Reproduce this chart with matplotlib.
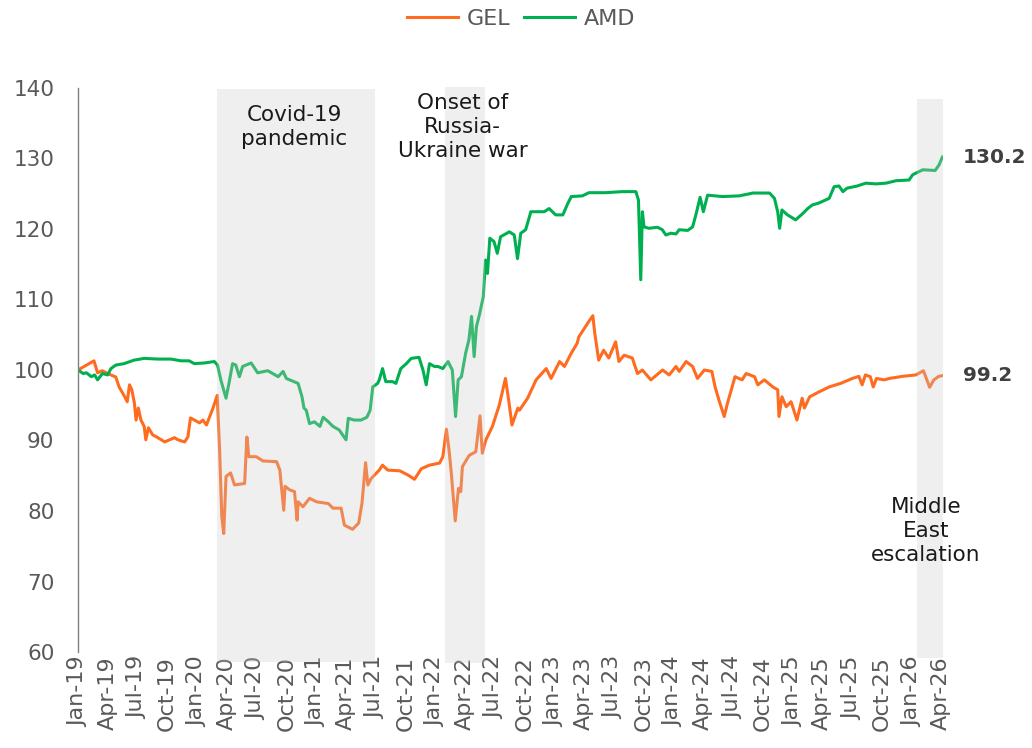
import numpy as np
import pandas as pd
import matplotlib
matplotlib.use("Agg")
import matplotlib.pyplot as plt
import matplotlib.dates as mdates

# GEL and AMD exchange-rate index (Jan-2019 = 100)
gel_dates = [
    "2019-01-01", "2019-02-19", "2019-03-02", "2019-03-16", "2019-04-12", "2019-04-27",
    "2019-05-07", "2019-05-22", "2019-06-01", "2019-06-08", "2019-06-15", "2019-06-23",
    "2019-06-28", "2019-07-05", "2019-07-13", "2019-07-23", "2019-07-28", "2019-08-05",
    "2019-08-18", "2019-09-03", "2019-09-24", "2019-10-24", "2019-11-03", "2019-11-24",
    "2019-12-04", "2019-12-12", "2019-12-24", "2020-01-09", "2020-01-19", "2020-01-30",
    "2020-02-09", "2020-02-19", "2020-03-03", "2020-03-10", "2020-03-17", "2020-03-23",
    "2020-03-30", "2020-04-13", "2020-04-25", "2020-05-26", "2020-06-02", "2020-06-08",
    "2020-07-01", "2020-07-21", "2020-09-01", "2020-09-11", "2020-09-23", "2020-09-27",
    "2020-10-11", "2020-10-26", "2020-11-03", "2020-11-06", "2020-11-21", "2020-12-11",
    "2021-01-02", "2021-02-07", "2021-02-21", "2021-03-18", "2021-03-28", "2021-04-22",
    "2021-05-11", "2021-05-21", "2021-06-01", "2021-06-08", "2021-06-18", "2021-07-13",
    "2021-07-23", "2021-08-08", "2021-09-14", "2021-10-09", "2021-10-29", "2021-11-19",
    "2021-12-14", "2022-01-14", "2022-01-24", "2022-02-04", "2022-02-12", "2022-02-19",
    "2022-03-03", "2022-03-13", "2022-03-20", "2022-03-25", "2022-04-15", "2022-05-05",
    "2022-05-18", "2022-05-25", "2022-06-05", "2022-06-25", "2022-07-16", "2022-08-04",
    "2022-08-14", "2022-08-24", "2022-09-11", "2022-09-16", "2022-10-11", "2022-11-06",
    "2022-12-07", "2022-12-22", "2023-01-17", "2023-02-01", "2023-02-22", "2023-03-12",
    "2023-03-17", "2023-04-17", "2023-04-29", "2023-05-05", "2023-05-17", "2023-06-01",
    "2023-06-17", "2023-07-08", "2023-07-18", "2023-08-03", "2023-08-28", "2023-09-13",
    "2023-09-28", "2023-10-24", "2023-11-29", "2023-12-19", "2024-01-09", "2024-01-19",
    "2024-02-09", "2024-02-29", "2024-03-15", "2024-04-05", "2024-04-28", "2024-05-08",
    "2024-05-20", "2024-06-05", "2024-06-15", "2024-06-25", "2024-07-08", "2024-07-30",
    "2024-08-11", "2024-09-06", "2024-09-16", "2024-10-06", "2024-11-01", "2024-11-16",
    "2024-11-20", "2024-11-29", "2024-12-12", "2024-12-27", "2025-01-14", "2025-01-30",
    "2025-02-06", "2025-02-22", "2025-03-23", "2025-04-23", "2025-05-28", "2025-07-03",
    "2025-07-23", "2025-08-02", "2025-08-12", "2025-08-27", "2025-09-05", "2025-09-15",
    "2025-10-09", "2025-10-24", "2025-12-04", "2026-01-14", "2026-02-06", "2026-02-25",
    "2026-03-10", "2026-03-25", "2026-04-05",
]
gel_values = [
    100.0, 101.3, 99.6, 99.9, 99.3, 99.0,
    97.6, 96.4, 95.5, 97.9, 97.2, 95.3,
    92.9, 94.6, 92.9, 92.0, 90.1, 91.8,
    90.8, 90.4, 89.8, 90.4, 90.1, 89.8,
    90.5, 93.2, 92.9, 92.5, 92.9, 92.2,
    93.4, 94.6, 96.4, 89.1, 79.2, 76.8,
    84.9, 85.4, 83.7, 83.9, 90.5, 87.7,
    87.7, 87.1, 87.0, 85.8, 80.1, 83.5,
    83.0, 82.75, 78.7, 81.3, 80.6, 81.8,
    81.3, 81.05, 80.4, 80.4, 78.0, 77.4,
    78.3, 81.1, 86.85, 83.7, 84.6, 85.8,
    86.5, 85.8, 85.7, 85.1, 84.5, 86.0,
    86.5, 86.8, 87.7, 91.6, 88.65, 85.35,
    78.6, 83.2, 82.75, 86.3, 87.9, 88.4,
    93.5, 88.2, 90.1, 92.0, 95.0, 98.8,
    95.7, 92.2, 94.6, 94.3, 96.0, 98.6,
    100.2, 98.8, 101.2, 100.5, 102.4, 103.8,
    104.7, 106.9, 107.7, 105.2, 101.4, 102.8,
    101.7, 104.0, 101.2, 102.1, 101.7, 99.5,
    100.0, 98.6, 100.0, 99.3, 100.5, 99.8,
    101.2, 100.5, 98.8, 100.0, 99.8, 97.6,
    95.7, 93.4, 95.3, 96.9, 99.05, 98.6,
    99.5, 99.05, 97.9, 98.6, 97.6, 97.2,
    93.4, 96.2, 94.8, 95.5, 92.9, 96.0,
    94.6, 96.2, 96.9, 97.6, 98.1, 98.8,
    99.1, 97.9, 99.3, 99.05, 97.6, 98.8,
    98.6, 98.8, 99.1, 99.3, 99.9, 97.55,
    98.6, 99.1, 99.2,
]

amd_dates = [
    "2019-01-01", "2019-01-17", "2019-01-27", "2019-02-11", "2019-02-21", "2019-03-02",
    "2019-03-17", "2019-04-02", "2019-04-12", "2019-04-27", "2019-05-22", "2019-06-22",
    "2019-07-23", "2019-09-03", "2019-10-13", "2019-11-13", "2019-12-08", "2019-12-24",
    "2020-01-24", "2020-02-23", "2020-03-04", "2020-03-14", "2020-03-30", "2020-04-09",
    "2020-04-19", "2020-04-29", "2020-05-10", "2020-05-20", "2020-06-15", "2020-07-05",
    "2020-08-05", "2020-09-06", "2020-09-21", "2020-10-01", "2020-11-06", "2020-11-18",
    "2020-11-24", "2020-12-01", "2020-12-11", "2020-12-26", "2021-01-12", "2021-01-22",
    "2021-02-07", "2021-02-21", "2021-03-12", "2021-04-02", "2021-04-09", "2021-04-27",
    "2021-05-18", "2021-06-05", "2021-06-15", "2021-06-23", "2021-07-08", "2021-07-13",
    "2021-07-23", "2021-08-02", "2021-08-23", "2021-09-02", "2021-09-17", "2021-10-04",
    "2021-10-19", "2021-11-12", "2021-11-24", "2021-12-04", "2021-12-14", "2021-12-29",
    "2022-01-09", "2022-01-24", "2022-02-09", "2022-02-22", "2022-03-04", "2022-03-12",
    "2022-03-22", "2022-04-04", "2022-04-14", "2022-04-22", "2022-04-30", "2022-05-07",
    "2022-05-17", "2022-05-28", "2022-06-04", "2022-06-10", "2022-06-17", "2022-06-30",
    "2022-07-10", "2022-07-20", "2022-08-16", "2022-08-31", "2022-09-10", "2022-09-20",
    "2022-10-05", "2022-10-21", "2022-12-01", "2022-12-16", "2023-01-05", "2023-01-27",
    "2023-02-11", "2023-02-22", "2023-03-28", "2023-04-17", "2023-06-07", "2023-07-28",
    "2023-09-08", "2023-09-16", "2023-09-23", "2023-09-28", "2023-10-03", "2023-10-18",
    "2023-11-13", "2023-11-28", "2023-12-09", "2023-12-24", "2024-01-09", "2024-01-19",
    "2024-02-14", "2024-02-29", "2024-03-10", "2024-03-23", "2024-04-02", "2024-04-15",
    "2024-05-31", "2024-07-21", "2024-09-01", "2024-10-22", "2024-11-06", "2024-11-16",
    "2024-11-22", "2024-11-29", "2024-12-16", "2025-01-10", "2025-02-01", "2025-02-16",
    "2025-03-02", "2025-03-23", "2025-04-23", "2025-05-08", "2025-05-23", "2025-06-04",
    "2025-06-17", "2025-07-18", "2025-08-13", "2025-09-13", "2025-10-14", "2025-11-14",
    "2025-12-24", "2026-01-04", "2026-02-04", "2026-03-14", "2026-03-26", "2026-04-05",
]
amd_values = [
    100.0, 99.5, 99.6, 99.05, 99.3, 98.6,
    99.5, 99.3, 100.2, 100.7, 100.9, 101.4,
    101.65, 101.55, 101.55, 101.3, 101.3, 100.9,
    101.0, 101.2, 100.7, 98.6, 96.0, 98.35,
    100.9, 100.7, 99.05, 100.5, 101.0, 99.6,
    99.9, 99.05, 99.8, 98.8, 98.1, 96.2,
    94.6, 94.3, 92.4, 92.65, 92.0, 93.3,
    92.65, 92.0, 91.5, 90.1, 93.15, 92.9,
    92.9, 93.3, 94.3, 97.6, 98.1, 98.6,
    100.2, 98.35, 98.35, 98.1, 100.2, 100.9,
    101.65, 101.8, 100.0, 97.9, 100.9, 100.5,
    100.5, 100.2, 101.2, 100.0, 93.4, 98.6,
    99.05, 102.4, 104.3, 107.6, 101.9, 106.15,
    108.0, 110.4, 115.6, 113.7, 118.7, 118.2,
    116.55, 118.9, 119.6, 119.15, 115.8, 119.4,
    119.9, 122.45, 122.45, 122.9, 122.0, 122.0,
    123.6, 124.6, 124.7, 125.15, 125.15, 125.3,
    125.3, 124.1, 112.8, 122.45, 120.3, 120.1,
    120.25, 119.9, 119.15, 119.4, 119.3, 119.9,
    119.8, 120.3, 122.0, 124.5, 122.45, 124.8,
    124.6, 124.7, 125.1, 125.1, 124.35, 122.45,
    120.1, 122.7, 122.0, 121.3, 122.2, 122.9,
    123.4, 123.7, 124.35, 126.0, 126.1, 125.3,
    125.8, 126.1, 126.5, 126.4, 126.5, 126.85,
    126.95, 127.7, 128.4, 128.3, 129.1, 130.2,
]

# shaded event periods
event_starts = ["2020-03-01", "2022-02-01", "2026-01-18"]
event_ends = ["2021-07-01", "2022-06-01", "2026-04-07"]
event_labels = ["Covid-19\npandemic", "Onset of\nRussia-\nUkraine war", "Middle\nEast\nescalation"]
event_label_x = ["2020-10-26", "2022-03-25", "2026-02-14"]
event_label_y = [134.5, 134.4, 77.2]
band_bottom = [58.6, 58.4, 59.1]
band_top = [139.8, 140.2, 138.5]

GEL_COLOR = "#ff6b1f"
AMD_COLOR = "#00b050"
TICK_COLOR = "#595959"

plt.rcParams["font.family"] = ["DejaVu Sans"]

gel_x = pd.to_datetime(gel_dates)
amd_x = pd.to_datetime(amd_dates)

fig = plt.figure(figsize=(10.32, 7.48), dpi=100)
ax = fig.add_axes([78 / 1032, 1 - 652 / 748, (943 - 78) / 1032, (652 - 88) / 748])

ax.plot(gel_x, gel_values, color=GEL_COLOR, lw=2.2, label="GEL", zorder=2)
ax.plot(amd_x, amd_values, color=AMD_COLOR, lw=2.2, label="AMD", zorder=2)

# gray bands sit on top of the lines (lines look faded inside them)
for s, e, b, t in zip(event_starts, event_ends, band_bottom, band_top):
    ax.fill_between(pd.to_datetime([s, e]), b, t, color="#cbcbcb", alpha=0.3,
                    lw=0, zorder=3, clip_on=False)

for lab, lx, ly in zip(event_labels, event_label_x, event_label_y):
    ax.text(pd.Timestamp(lx), ly, lab, ha="center", va="center", fontsize=15.5,
            color="#1a1a1a", linespacing=1.25, zorder=4)

# end-of-series values
for xs, ys in [(amd_x, amd_values), (gel_x, gel_values)]:
    ax.annotate(f"{ys[-1]:.1f}", xy=(xs[-1], ys[-1]), xytext=(15, 0),
                textcoords="offset points", ha="left", va="center",
                fontsize=14.5, fontweight="bold", color="#404040", annotation_clip=False)

ax.set_ylim(60, 140)
ax.set_yticks(np.arange(60, 141, 10))
ax.set_xlim(pd.Timestamp("2019-01-01"), pd.Timestamp("2026-04-07"))
ax.xaxis.set_major_locator(mdates.MonthLocator(bymonth=[1, 4, 7, 10]))
ax.xaxis.set_major_formatter(mdates.DateFormatter("%b-%y"))
ax.tick_params(axis="x", length=0, rotation=90, labelsize=16, colors=TICK_COLOR, pad=3)
ax.tick_params(axis="y", length=0, labelsize=15.5, colors=TICK_COLOR, pad=17)

for side in ["top", "right", "bottom"]:
    ax.spines[side].set_visible(False)
ax.spines["left"].set_color("#808080")
ax.spines["left"].set_linewidth(1.0)

fig.legend(loc="center", bbox_to_anchor=(0.505, 0.975), ncol=2, frameon=False,
           fontsize=16, handlelength=2.3, columnspacing=0.6, handletextpad=0.4,
           labelcolor="#595959")

fig.savefig("out.png", dpi=100)
